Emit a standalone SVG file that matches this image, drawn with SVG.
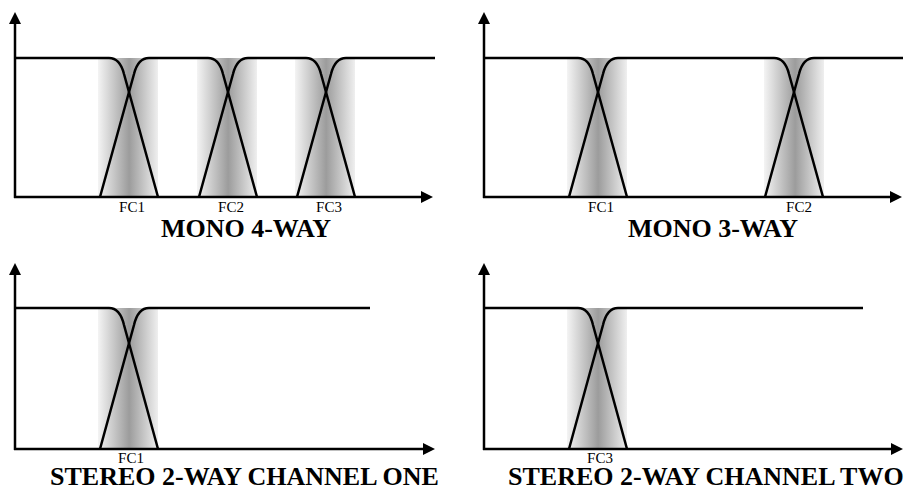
<svg xmlns="http://www.w3.org/2000/svg" width="915" height="490" viewBox="0 0 915 490">
<style>
.ax{stroke:#000;stroke-width:2.5;fill:none;marker-end:url(#ah)}
.cv{stroke:#000;stroke-width:2.5;fill:none;stroke-linejoin:round}
.lb{font-family:"Liberation Serif","Times New Roman",serif;font-size:15px;fill:#000;text-anchor:middle}
.tt{font-family:"Liberation Serif","Times New Roman",serif;font-size:26px;font-weight:bold;fill:#000}
.sh{fill:url(#g)}
</style>
<defs>
<linearGradient id="g" x1="0" y1="0" x2="1" y2="0">
<stop offset="0" stop-color="#f4f4f4"/>
<stop offset="0.52" stop-color="#9c9c9c"/>
<stop offset="1" stop-color="#efefef"/>
</linearGradient>
<marker id="ah" markerUnits="userSpaceOnUse" markerWidth="14" markerHeight="14" refX="0" refY="6" orient="auto">
<path d="M0,0 L12,6 L0,12 z" fill="#000"/>
</marker>
</defs>

<g id="mono4">
<rect class="sh" x="98" y="58" width="60" height="139"/>
<rect class="sh" x="197" y="58" width="60" height="139"/>
<rect class="sh" x="295" y="58" width="60" height="139"/>
<path class="cv" d="M15,58 H109 Q120,58 124,74 L158,197"/>
<path class="cv" d="M100,197 L134,74 Q138,58 149,58 H208 Q219,58 223,74 L257,197"/>
<path class="cv" d="M199,197 L233,74 Q237,58 248,58 H306 Q317,58 321,74 L355,197"/>
<path class="cv" d="M297,197 L331,74 Q335,58 346,58 H435"/>
<line class="ax" x1="15" y1="198" x2="15" y2="24"/>
<line class="ax" x1="14" y1="197" x2="421" y2="197"/>
<text class="lb" x="132" y="212">FC1</text>
<text class="lb" x="231" y="212">FC2</text>
<text class="lb" x="329" y="212">FC3</text>
<text class="tt" x="246" y="237" text-anchor="middle">MONO 4-WAY</text>
</g>

<g id="mono3">
<rect class="sh" x="567" y="58" width="60" height="139"/>
<rect class="sh" x="764" y="58" width="60" height="139"/>
<path class="cv" d="M484,58 H578 Q589,58 593,74 L627,197"/>
<path class="cv" d="M569,197 L603,74 Q607,58 618,58 H774 Q785,58 789,74 L823,197"/>
<path class="cv" d="M765,197 L799,74 Q803,58 814,58 H903"/>
<line class="ax" x1="484" y1="198" x2="484" y2="24"/>
<line class="ax" x1="483" y1="197" x2="890" y2="197"/>
<text class="lb" x="601" y="212">FC1</text>
<text class="lb" x="799" y="212">FC2</text>
<text class="tt" x="713" y="237" text-anchor="middle">MONO 3-WAY</text>
</g>

<g id="stereo1">
<rect class="sh" x="98" y="308" width="60" height="141"/>
<path class="cv" d="M15,308 H109 Q120,308 124,325 L158,449"/>
<path class="cv" d="M100,449 L134,325 Q138,308 149,308 H370"/>
<line class="ax" x1="15" y1="450" x2="15" y2="275"/>
<line class="ax" x1="14" y1="449" x2="423" y2="449"/>
<text class="lb" x="131" y="463">FC1</text>
<text class="tt" x="50" y="485">STEREO 2-WAY CHANNEL ONE</text>
</g>

<g id="stereo2">
<rect class="sh" x="567" y="308" width="60" height="141"/>
<path class="cv" d="M484,308 H578 Q589,308 593,325 L627,449"/>
<path class="cv" d="M569,449 L603,325 Q607,308 618,308 H863"/>
<line class="ax" x1="484" y1="450" x2="484" y2="275"/>
<line class="ax" x1="483" y1="449" x2="891" y2="449"/>
<text class="lb" x="600" y="463">FC3</text>
<text class="tt" x="508" y="485">STEREO 2-WAY CHANNEL TWO</text>
</g>
</svg>
